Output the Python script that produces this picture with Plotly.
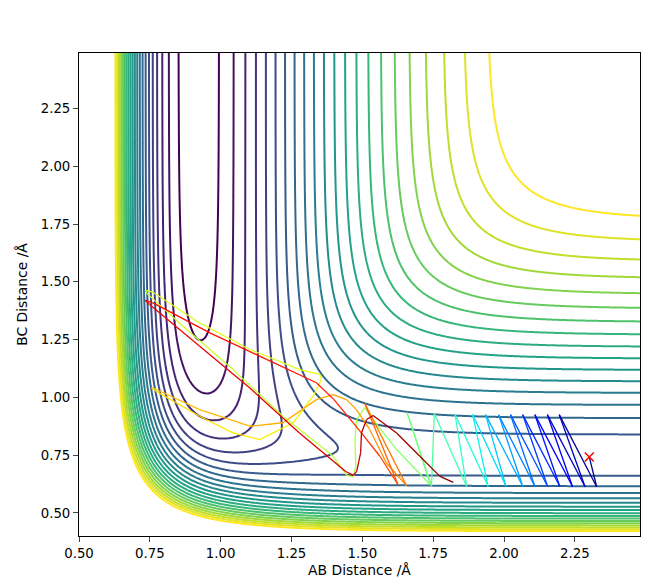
import numpy as np
import plotly.graph_objects as go

# LEPS surface for F + H2 (A = F, B = H, C = H), energies in eV
D_HF, beta_HF, re_HF, sato_HF = 6.122, 2.2187, 0.917, 0.20
D_HH, beta_HH, re_HH, sato_HH = 4.7466, 1.942, 0.7419, 0.19

# contour levels (eV)
level_start = -5.9693
level_step = 0.2272
n_levels = 22

# trajectory: AB, BC distances and time fraction (from colour)
traj_ab = [2.301, 2.327, 2.195, 2.286, 2.153, 2.242, 2.109, 2.197, 2.066, 2.154,
           2.023, 2.109, 1.981, 2.066, 1.935, 2.007, 1.889, 1.944, 1.827, 1.868,
           1.754, 1.744, 1.658, 1.740, 1.621, 1.538, 1.509, 1.480, 1.474, 1.477,
           1.468, 1.445, 1.397, 1.220, 1.044, 0.867, 0.738, 0.734, 0.761, 0.926,
           1.103, 1.279, 1.350, 1.356, 1.326, 1.256, 1.138, 1.044, 0.926, 0.773,
           0.756, 0.773, 0.926, 1.103, 1.220, 1.338, 1.397, 1.444, 1.479, 1.526,
           1.585, 1.656, 1.509, 1.626, 1.562, 1.491, 1.400, 1.338, 1.162, 0.962,
           0.761, 0.734, 0.749, 0.926, 1.103, 1.279, 1.397, 1.440, 1.468, 1.480,
           1.494, 1.497, 1.515, 1.538, 1.621, 1.703, 1.774, 1.821]
traj_bc = [0.742, 0.613, 0.925, 0.613, 0.925, 0.613, 0.925, 0.614, 0.925, 0.614,
           0.925, 0.614, 0.925, 0.615, 0.925, 0.615, 0.927, 0.615, 0.928, 0.615,
           0.930, 0.617, 0.934, 0.622, 0.774, 0.904, 0.955, 0.904, 0.817, 0.702,
           0.656, 0.662, 0.745, 0.918, 1.120, 1.308, 1.452, 1.463, 1.455, 1.322,
           1.207, 1.120, 1.099, 1.077, 1.005, 0.890, 0.817, 0.846, 0.918, 1.026,
           1.041, 1.034, 0.947, 0.875, 0.890, 0.990, 1.012, 0.990, 0.947, 0.861,
           0.716, 0.618, 0.973, 0.622, 0.745, 0.855, 0.990, 1.063, 1.164, 1.279,
           1.409, 1.420, 1.402, 1.221, 1.040, 0.845, 0.725, 0.680, 0.662, 0.680,
           0.760, 0.846, 0.904, 0.921, 0.846, 0.745, 0.658, 0.632]
traj_t = [0.000, 0.015, 0.040, 0.060, 0.085, 0.105, 0.130, 0.150, 0.175, 0.195,
          0.220, 0.240, 0.265, 0.285, 0.310, 0.330, 0.355, 0.375, 0.400, 0.420,
          0.445, 0.465, 0.490, 0.510, 0.520, 0.530, 0.540, 0.550, 0.560, 0.565,
          0.570, 0.575, 0.580, 0.585, 0.590, 0.600, 0.605, 0.607, 0.610, 0.615,
          0.620, 0.625, 0.630, 0.640, 0.645, 0.650, 0.660, 0.665, 0.670, 0.680,
          0.690, 0.700, 0.710, 0.720, 0.725, 0.730, 0.735, 0.740, 0.745, 0.750,
          0.760, 0.770, 0.790, 0.820, 0.850, 0.865, 0.875, 0.880, 0.885, 0.890,
          0.895, 0.897, 0.900, 0.905, 0.910, 0.915, 0.920, 0.925, 0.930, 0.935,
          0.940, 0.950, 0.955, 0.960, 0.970, 0.980, 0.990, 1.000]


def coulomb_exchange(r, D, beta, re, s):
    e = np.exp(-beta * (r - re))
    Q = D / 4 * ((3 + s) * e**2 - (2 + 6 * s) * e) / (1 + s)
    J = D / 4 * ((1 + 3 * s) * e**2 - (6 + 2 * s) * e) / (1 + s)
    return Q, J


r_ab = np.arange(0.5, 2.4801, 0.005)
r_bc = np.arange(0.4, 2.4901, 0.005)
AB, BC = np.meshgrid(r_ab, r_bc)
AC = AB + BC

Q1, J1 = coulomb_exchange(AB, D_HF, beta_HF, re_HF, sato_HF)
Q2, J2 = coulomb_exchange(BC, D_HH, beta_HH, re_HH, sato_HH)
Q3, J3 = coulomb_exchange(AC, D_HF, beta_HF, re_HF, sato_HF)
V = Q1 + Q2 + Q3 - np.sqrt(J1**2 + J2**2 + J3**2 - J1 * J2 - J2 * J3 - J1 * J3)

level_end = level_start + (n_levels - 1) * level_step


def jet(t):
    r = np.interp(t, [0, 0.35, 0.66, 0.89, 1], [0, 0, 1, 1, 0.5])
    g = np.interp(t, [0, 0.125, 0.375, 0.64, 0.91, 1], [0, 0, 1, 1, 0, 0])
    b = np.interp(t, [0, 0.11, 0.34, 0.65, 1], [0.5, 1, 1, 0, 0])
    return 'rgb(%d,%d,%d)' % (r * 255, g * 255, b * 255)


fig = go.Figure()
fig.add_trace(go.Contour(
    x=r_ab, y=r_bc, z=V,
    autocontour=False,
    contours=dict(coloring='lines', start=level_start,
                  end=level_end + level_step / 10, size=level_step),
    colorscale='Viridis', zmin=level_start, zmax=level_end,
    showscale=False, line=dict(width=2), hoverinfo='skip'))

for i in range(len(traj_ab) - 1):
    fig.add_trace(go.Scatter(
        x=traj_ab[i:i + 2], y=traj_bc[i:i + 2], mode='lines',
        line=dict(color=jet((traj_t[i] + traj_t[i + 1]) / 2), width=1.3),
        showlegend=False, hoverinfo='skip'))

fig.add_trace(go.Scatter(
    x=traj_ab[:1], y=traj_bc[:1], mode='markers',
    marker=dict(symbol='x-thin', size=9, line=dict(color='red', width=1.5)),
    showlegend=False))

fig.update_layout(
    width=662, height=586,
    margin=dict(l=79, r=22, t=53, b=50),
    plot_bgcolor='white', paper_bgcolor='white',
    font=dict(family='DejaVu Sans', size=13.5, color='black'),
    showlegend=False)
fig.update_xaxes(range=[0.5, 2.48], tick0=0.5, dtick=0.25, tickformat='.2f',
                 ticks='outside', ticklen=5, showline=True, linecolor='black',
                 linewidth=1, mirror=True, showgrid=False, zeroline=False,
                 tickfont=dict(size=13.3), automargin=False,
                 title=dict(text='AB Distance /Å', standoff=5, font=dict(size=13.9)))
fig.update_yaxes(range=[0.4, 2.49], tick0=0.5, dtick=0.25, tickformat='.2f',
                 ticks='outside', ticklen=5, showline=True, linecolor='black',
                 linewidth=1, mirror=True, showgrid=False, zeroline=False,
                 tickfont=dict(size=13.3), automargin=False,
                 title=dict(text='BC Distance /Å', standoff=9, font=dict(size=13.9)))

# page body margin off so the figure sits at the window's corner
fig.write_html("out.html", config={'displayModeBar': False},
               post_script="document.body.style.margin = '0px';")
